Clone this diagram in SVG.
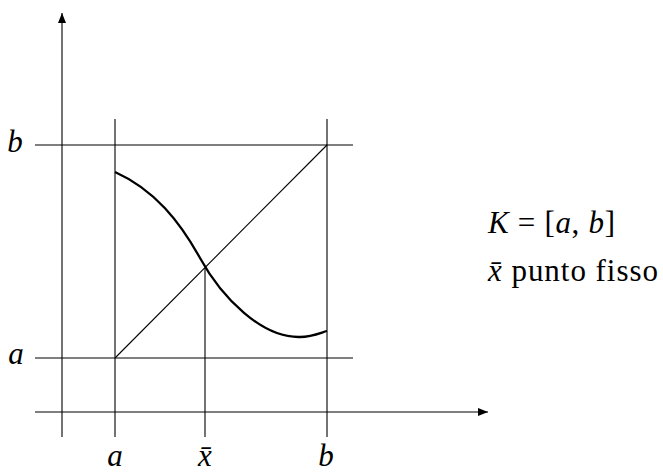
<svg xmlns="http://www.w3.org/2000/svg" width="663" height="475" viewBox="0 0 663 475">
<style>
.ln{stroke:#000;stroke-width:1.1;fill:none}
.cv{stroke:#000;stroke-width:2.3;fill:none}
.lb{font-family:'Liberation Serif',serif;fill:#000}
.i{font-style:italic}
</style>
<defs>
<marker id="ar" markerWidth="10" markerHeight="8" refX="10" refY="4" orient="auto" markerUnits="userSpaceOnUse">
<path d="M0,0 L10,4 L0,8 Z" fill="#000"/>
</marker>
</defs>
<g id="connectors">
<line class="ln" x1="62" y1="437" x2="62" y2="13" marker-end="url(#ar)"/>
<line class="ln" x1="35" y1="412" x2="488" y2="412" marker-end="url(#ar)"/>
<line class="ln" x1="115" y1="119" x2="115" y2="437"/>
<line class="ln" x1="327" y1="119" x2="327" y2="437"/>
<line class="ln" x1="205" y1="268" x2="205" y2="437"/>
<line class="ln" x1="35" y1="145" x2="353" y2="145"/>
<line class="ln" x1="35" y1="358" x2="353" y2="358"/>
<line class="ln" x1="115" y1="358" x2="327" y2="145"/>
<path class="cv" d="M115,172 C155,190 180,222 200,258 C222,298 262,338 300,337 C312,336.7 320,333 327,331"/>
</g>
<g id="labels" class="lb" font-size="31">
<text class="i" x="15" y="152" text-anchor="middle">b</text>
<text class="i" x="16" y="364" text-anchor="middle">a</text>
<text class="i" x="115" y="466" text-anchor="middle">a</text>
<text class="i" x="205" y="466" text-anchor="middle">x̄</text>
<text class="i" x="326" y="466" text-anchor="middle">b</text>
</g>
<g id="legend" class="lb" font-size="31">
<text x="488" y="233" textLength="127"><tspan class="i">K</tspan> = [<tspan class="i">a</tspan>, <tspan class="i">b</tspan>]</text>
<text x="488" y="281" textLength="170"><tspan class="i">x̄</tspan> punto fisso</text>
</g>
</svg>
